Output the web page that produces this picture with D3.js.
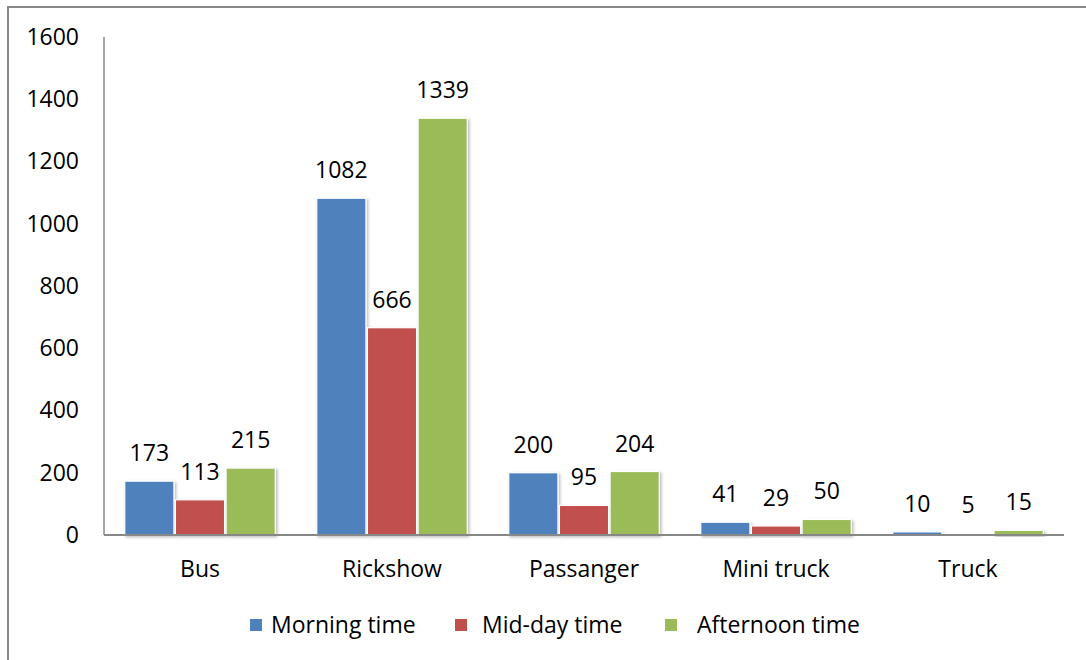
<!DOCTYPE html>
<html>
<head>
<meta charset="utf-8">
<script src="https://cdn.jsdelivr.net/npm/d3@7"></script>
<style>
  html, body { margin: 0; padding: 0; background: #fff; }
  svg { display: block; font-family: "Open Sans", "Noto Sans", sans-serif; }
</style>
</head>
<body>
<svg id="chart" width="1086" height="660"></svg>
<script>
// Vehicle counts by time of day
const categories = ["Bus", "Rickshow", "Passanger", "Mini truck", "Truck"];
const seriesNames = ["Morning time", "Mid-day time", "Afternoon time"];
const morning   = [173, 1082, 200, 41, 10];
const midday    = [113, 666, 95, 29, 5];
const afternoon = [215, 1339, 204, 50, 15];
const yTicks = [0, 200, 400, 600, 800, 1000, 1200, 1400, 1600];
const colors = ["#4F81BD", "#C0504D", "#9BBB59"];

const seriesValues = [morning, midday, afternoon];

const svg = d3.select("#chart");
const W = 1086, H = 660;

// outer frame (runs past the right and bottom edges)
svg.append("rect")
  .attr("x", 8).attr("y", 7)
  .attr("width", W + 20).attr("height", H + 20)
  .attr("fill", "#fff")
  .attr("stroke", "#888").attr("stroke-width", 2);

// soft drop shadow for bars
const defs = svg.append("defs");
const f = defs.append("filter").attr("id", "shadow")
  .attr("x", "-20%").attr("y", "-20%").attr("width", "150%").attr("height", "150%");
f.append("feDropShadow")
  .attr("dx", 1.5).attr("dy", 1.5).attr("stdDeviation", 1.5)
  .attr("flood-color", "#000").attr("flood-opacity", 0.28);

const plot = { left: 104, right: 1064, top: 37, bottom: 535 };

const y = d3.scaleLinear().domain([0, 1600]).range([plot.bottom, plot.top]);
const x0 = d3.scaleBand().domain(categories).range([plot.left, plot.right]).padding(0);
const groupInset = 20;
const x1 = d3.scaleBand().domain(seriesNames)
  .range([groupInset, x0.bandwidth() - groupInset]).padding(0);

// y axis labels
const yAxis = d3.axisLeft(y).tickValues(yTicks).tickFormat(d3.format("d"))
  .tickSize(0).tickPadding(25);
const gy = svg.append("g").attr("transform", `translate(${plot.left},0)`).call(yAxis);
gy.select(".domain").remove();
gy.selectAll("text")
  .attr("font-size", 23).attr("fill", "#000")
  .attr("font-family", "'Open Sans', sans-serif");

// y axis line
svg.append("line")
  .attr("x1", plot.left).attr("x2", plot.left)
  .attr("y1", plot.top).attr("y2", plot.bottom)
  .attr("stroke", "#888").attr("stroke-width", 1.5);

// bars
const groups = svg.append("g").selectAll("g")
  .data(categories)
  .join("g")
  .attr("transform", d => `translate(${x0(d)},0)`);

const barData = (c, i) => seriesNames.map((s, k) => ({ s, k, v: seriesValues[k][i] }));

groups.each(function (c, i) {
  const g = d3.select(this);
  const data = barData(c, i);
  g.selectAll("rect").data(data).join("rect")
    .attr("x", d => x1(d.s) + 0.75)
    .attr("width", x1.bandwidth() - 1.5)
    .attr("y", d => y(d.v))
    .attr("height", d => y(0) - y(d.v))
    .attr("fill", d => colors[d.k])
    .attr("stroke", "#fff").attr("stroke-width", 1.2)
    .attr("filter", "url(#shadow)");
  g.selectAll("text.val").data(data).join("text")
    .attr("class", "val")
    .attr("x", d => x1(d.s) + x1.bandwidth() / 2)
    .attr("y", d => y(d.v) - 20)
    .attr("text-anchor", "middle")
    .attr("font-size", 23)
    .attr("fill", "#000")
    .text(d => d.v);
});

// x axis line
svg.append("line")
  .attr("x1", plot.left).attr("x2", plot.right)
  .attr("y1", plot.bottom).attr("y2", plot.bottom)
  .attr("stroke", "#888").attr("stroke-width", 2);

// category labels
svg.append("g").selectAll("text")
  .data(categories)
  .join("text")
  .attr("x", d => x0(d) + x0.bandwidth() / 2)
  .attr("y", 577)
  .attr("text-anchor", "middle")
  .attr("font-size", 23)
  .attr("fill", "#000")
  .text(d => d);

// legend
const legendX = [250, 455, 665];
const legendTextGap = [21, 27, 32];
const lg = svg.append("g");
seriesNames.forEach((s, k) => {
  lg.append("rect")
    .attr("x", legendX[k]).attr("y", 619)
    .attr("width", 12).attr("height", 12)
    .attr("fill", colors[k]);
  lg.append("text")
    .attr("x", legendX[k] + legendTextGap[k]).attr("y", 633)
    .attr("font-size", 23).attr("fill", "#000")
    .text(s);
});
</script>
</body>
</html>
